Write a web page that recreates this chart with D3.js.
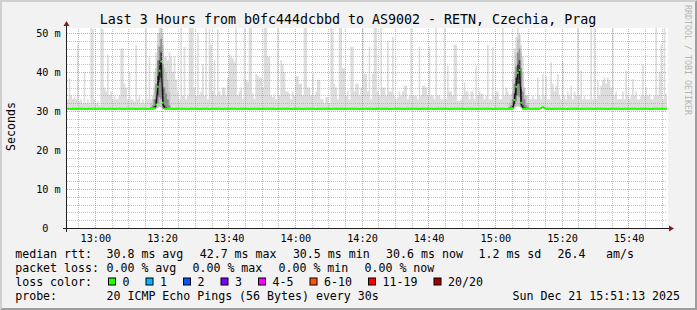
<!DOCTYPE html>
<html>
<head>
<meta charset="utf-8">
<script src="https://cdn.jsdelivr.net/npm/d3@7"></script>
<style>
  body { margin: 0; background: #f2f2f2; }
  svg { display: block; }
  text { font-family: "DejaVu Sans Mono", monospace; }
</style>
</head>
<body>
<div id="chart"></div>
<script>
// ---- data ----
const startTime = new Date(2025, 11, 21, 12, 51, 30);
const endTime = new Date(2025, 11, 21, 15, 51, 30);
const stepSec = 30;
const yMax = 51.28; // ms, top of the canvas

// median rtt per 30 s step, ms
const median = [
  30.6,30.6,30.5,30.6,30.6,30.6,30.5,30.6,30.6,30.6,30.6,30.5,30.6,30.6,30.6,30.6,30.6,30.5,30.6,30.6,
  30.6,30.6,30.6,30.5,30.6,30.6,30.6,30.6,30.5,30.6,30.6,30.6,30.6,30.6,30.5,30.6,30.6,30.6,30.6,30.6,
  30.6,30.5,30.6,30.6,30.6,30.6,30.6,30.6,30.5,30.6,30.6,30.6,30.7,31.6,36.2,40.3,42.7,32.1,30.6,30.6,
  30.6,30.6,30.6,30.6,30.5,30.6,30.6,30.6,30.6,30.6,30.6,30.6,30.5,30.6,30.6,30.6,30.6,30.6,30.6,30.5,
  30.6,30.6,30.6,30.6,30.6,30.5,30.6,30.6,30.6,30.6,30.6,30.6,30.6,30.5,30.6,30.6,30.6,30.6,30.6,30.6,
  30.6,30.6,30.5,30.6,30.6,30.6,30.6,30.6,30.6,30.5,30.6,30.6,30.6,30.6,30.6,30.6,30.5,30.6,30.6,30.6,
  30.6,30.6,30.6,30.6,30.6,30.5,30.6,30.6,30.6,30.6,30.6,30.6,30.6,30.6,30.5,30.6,30.6,30.6,30.6,30.6,
  30.6,30.5,30.6,30.6,30.6,30.6,30.6,30.6,30.6,30.5,30.6,30.6,30.6,30.6,30.6,30.6,30.6,30.6,30.5,30.6,
  30.6,30.6,30.6,30.6,30.6,30.6,30.5,30.6,30.6,30.6,30.6,30.6,30.6,30.6,30.6,30.5,30.6,30.6,30.6,30.6,
  30.6,30.6,30.6,30.6,30.5,30.6,30.6,30.6,30.6,30.6,30.6,30.6,30.6,30.5,30.6,30.6,30.6,30.6,30.6,30.6,
  30.6,30.6,30.5,30.6,30.6,30.6,30.6,30.6,30.6,30.6,30.6,30.5,30.6,30.6,30.6,30.6,30.6,30.6,30.6,30.6,
  30.5,30.6,30.6,30.6,30.6,30.6,30.6,30.6,30.6,30.5,30.6,30.6,30.6,30.6,30.6,30.6,30.6,30.6,30.5,30.6,
  30.6,30.6,30.6,30.6,30.6,30.6,30.5,30.6,30.6,30.6,30.6,30.6,30.6,30.6,30.6,30.5,30.6,30.6,30.6,30.6,
  30.6,30.6,30.6,30.5,30.6,30.6,30.6,30.7,32.8,36.2,39.8,40.5,32.1,30.6,30.6,30.6,30.6,30.6,30.6,30.6,
  30.6,30.6,30.6,30.6,30.7,31.0,30.7,30.6,30.6,30.6,30.5,30.6,30.6,30.6,30.6,30.6,30.6,30.6,30.6,30.5,
  30.6,30.6,30.6,30.6,30.6,30.6,30.6,30.5,30.6,30.6,30.6,30.6,30.6,30.6,30.6,30.6,30.5,30.6,30.6,30.6,
  30.6,30.6,30.6,30.6,30.5,30.6,30.6,30.6,30.6,30.6,30.6,30.6,30.6,30.5,30.6,30.6,30.6,30.6,30.6,30.6,
  30.6,30.6,30.5,30.6,30.6,30.6,30.6,30.6,30.6,30.6,30.5,30.6,30.6,30.6,30.6,30.6,30.6,30.6,30.6,30.6
];

// slowest ping per step (outer smoke), ms
const smokeMax = [
  33, 38.5, 34, 33, 33.5, 33, 47, 32.5, 33, 32,
  40, 32, 33, 32, 51.5, 51, 33, 32, 32.5, 31.5,
  52, 51, 36, 35, 44.5, 34, 35, 33, 34, 33,
  33, 34, 46, 46, 37, 36, 33, 40, 33, 33,
  32.5, 47, 33, 34, 32, 33, 32, 52, 33, 44,
  33, 34, 40, 45, 50, 52, 55, 50, 44, 44,
  43, 45, 44, 40, 44, 38, 35, 33, 52, 34,
  46.5, 33, 34, 52, 52, 51.5, 36, 34, 50, 34,
  35, 42, 34, 52, 33, 51, 47, 35, 43, 34,
  51, 35, 34, 36, 36, 34, 38.5, 44.5, 43.8, 43.5,
  42.5, 52, 34, 35, 36, 33, 52, 38, 37.5, 52,
  51.5, 34.5, 33, 39.5, 39, 38.6, 38.6, 36, 52, 52,
  44, 44, 34, 33.5, 34, 33, 52, 34, 43, 42,
  40, 35, 35, 34.5, 33, 35, 34, 39, 39, 37,
  37, 34, 52, 52, 36, 36, 34, 39.5, 34, 35,
  38, 38, 33, 33, 32, 33.5, 33.5, 32, 52, 51,
  37, 36, 33, 52, 52, 41, 41, 34, 35, 33,
  46.5, 46.5, 35, 37, 37, 34, 36, 52, 39.5, 39.5,
  35, 46.5, 33, 39.5, 52, 52, 35, 34, 52, 36,
  36, 34, 48, 35, 35, 49, 34, 33, 33.5, 35,
  34, 35, 36.5, 36.5, 33, 34, 52, 34, 34, 34,
  33, 46.5, 34, 36.5, 36.5, 36, 34, 46.5, 34, 34,
  33, 52, 34, 34, 33, 33, 52, 33, 41.6, 35,
  35, 34, 47, 47, 32.6, 32.6, 33, 34, 37.4, 35,
  35, 33, 35, 35, 33, 41.6, 34, 35, 34.4, 34.4,
  33, 34, 47, 33, 33, 46.5, 34, 35, 35, 33,
  33, 52, 34, 36, 35, 34, 34.4, 38, 46, 49,
  52, 50, 47, 44, 34, 34, 34, 33, 33, 34,
  33, 33, 38.6, 34, 33, 39.5, 34, 39, 33, 33,
  42.5, 37, 35, 36.5, 39.5, 34, 33, 42.5, 34, 33,
  35, 34, 36.5, 33, 35, 34, 52, 34, 40.4, 33,
  34, 33, 33, 33, 52, 33, 52, 33, 37.8, 34,
  36.5, 37.8, 38.5, 37, 38.5, 37.8, 36, 52, 34, 35,
  33, 33, 33, 35, 33, 40.4, 34, 33, 34, 38.2,
  34, 35, 33, 33, 34, 42, 34, 36, 34, 34.4,
  33, 33, 34, 52, 34, 40, 47, 33, 52, 34.4
];

// the two latency bursts: inner smoke bands, 12 steps each
const burstStart = [50, 265];
const burstOuterLo = [
  [30.5,30.5,30.6,30.6,30.8,31.0,30.9,30.6,30.5,30.5,30.5,30.5],
  [30.5,30.5,30.6,30.7,31.0,31.2,31.0,30.7,30.5,30.5,30.5,30.5]
];
const burstOuterHi = [
  [32.0,33.0,36.0,41.0,47.0,50.0,52.0,47.0,41.0,40.0,38.0,35.0],
  [32.0,33.0,35.0,40.0,45.0,48.5,49.5,45.0,40.0,36.0,34.0,32.0]
];
const burstMidLo = [
  [30.6,30.6,30.6,30.9,32.0,33.5,33.0,30.8,30.6,30.6,30.6,30.6],
  [30.6,30.6,30.6,31.2,32.5,34.0,33.5,31.0,30.6,30.6,30.6,30.6]
];
const burstMidHi = [
  [31.0,31.5,33.0,37.0,43.0,46.5,48.5,42.0,36.0,34.5,33.0,31.5],
  [31.0,31.5,33.0,37.0,41.5,45.0,46.0,41.0,35.0,33.0,31.5,31.0]
];
const burstCoreLo = [
  [30.6,30.6,30.7,31.2,34.0,37.5,38.5,31.4,30.6,30.6,30.6,30.6],
  [30.6,30.6,30.7,31.8,34.0,37.0,37.0,31.5,30.6,30.6,30.6,30.6]
];
const burstCoreHi = [
  [30.7,30.8,31.2,33.0,39.0,43.0,45.0,36.0,31.5,31.0,30.8,30.7],
  [30.7,30.8,31.3,34.5,38.5,42.0,43.0,36.0,31.5,31.0,30.8,30.7]
];

const yTicks = [0, 10, 20, 30, 40, 50];
const rttStats = [30.8, 42.7, 30.5, 30.6];
const lossStats = [0.00, 0.00, 0.00, 0.00];
const statNames = ["avg", "max", "min", "now"];
const rttSd = 1.2;
const rttAmps = 26.4;
const lossLabels = ["0", "1", "2", "3", "4-5", "6-10", "11-19", "20/20"];
const lossColors = ["#26ff00", "#00b8ff", "#0059ff", "#7e00ff", "#ff00ff", "#ff5500", "#ff0000", "#a10000"];
const title = "Last 3 Hours from b0fc444dcbbd to AS9002 - RETN, Czechia, Prag";
const probeText = "20 ICMP Echo Pings (56 Bytes) every 30s";
const stampText = "Sun Dec 21 15:51:13 2025";

// ---- layout ----
const W = 697, H = 310;
const X0 = 67, Y0 = 228, XSIZE = 600, YSIZE = 200;
const MONO = "DejaVu Sans Mono, monospace";

const svg = d3.select("#chart").append("svg").attr("width", W).attr("height", H);

// background with rrdtool style 3d border
svg.append("rect").attr("width", W).attr("height", H).attr("fill", "#f2f2f2");
svg.append("polygon")
  .attr("points", `0,${H} 2,${H - 2} 2,2 ${W - 2},2 ${W},0 0,0`)
  .attr("fill", "#cfcfcf");
svg.append("polygon")
  .attr("points", `2,${H - 2} ${W - 2},${H - 2} ${W - 2},2 ${W},0 ${W},${H} 0,${H}`)
  .attr("fill", "#9e9e9e");

svg.append("rect")
  .attr("x", X0).attr("y", Y0 - YSIZE)
  .attr("width", XSIZE + 1).attr("height", YSIZE + 1)
  .attr("fill", "#ffffff");

svg.append("clipPath").attr("id", "canvas")
  .append("rect").attr("x", X0).attr("y", Y0 - YSIZE).attr("width", XSIZE).attr("height", YSIZE);

const x = d3.scaleTime().domain([startTime, endTime]).range([X0, X0 + XSIZE]);
const y = d3.scaleLinear().domain([0, yMax]).range([Y0, Y0 - YSIZE]);

const stepTime = (i) => new Date(+startTime + i * stepSec * 1000);

let steps = median.map((m, i) => ({ t: stepTime(i), med: m, lo: m, hi: smokeMax[i] }));
burstStart.forEach((s, b) => {
  burstOuterLo[b].forEach((v, k) => (steps[s + k].lo = Math.min(v, steps[s + k].med)));
});

const area = d3.area()
  .x((d) => x(d.t))
  .y0((d) => y(d.lo))
  .y1((d) => y(d.hi))
  .curve(d3.curveStepAfter);

const smoke = svg.append("g").attr("clip-path", "url(#canvas)");
const last = steps[steps.length - 1];
smoke.append("path")
  .attr("d", area(steps.concat([{ ...last, t: endTime }])))
  .attr("fill", "#dddddd");

// inner bands of the two bursts, light to dark
const bands = [
  [burstOuterLo, burstOuterHi, "#c6c6c6"],
  [burstMidLo, burstMidHi, "#8e8e8e"],
  [burstCoreLo, burstCoreHi, "#3c3c3c"],
];
bands.forEach(([loArr, hiArr, color]) => {
  burstStart.forEach((s, b) => {
    let rows = loArr[b].map((lo, k) => ({ t: stepTime(s + k), lo: lo, hi: hiArr[b][k] }));
    rows.push({ ...rows[rows.length - 1], t: stepTime(s + rows.length) });
    smoke.append("path").attr("d", area(rows)).attr("fill", color);
  });
});

// grid (dotted, drawn over the smoke)
const grid = svg.append("g").attr("stroke-dasharray", "1,1").attr("stroke-width", 1);
const majorT = d3.timeMinute.every(20).range(startTime, endTime);
const minorT = d3.timeMinute.every(5).range(startTime, endTime).filter((t) => t.getMinutes() % 20 !== 0);
const minorV = d3.range(2, 51, 2).filter((v) => v % 10 !== 0);
const majorV = [10, 20, 30, 40, 50];

grid.selectAll(".vmin").data(minorT).join("line")
  .attr("x1", (d) => Math.floor(x(d)) + 0.5).attr("x2", (d) => Math.floor(x(d)) + 0.5)
  .attr("y1", Y0).attr("y2", Y0 - YSIZE)
  .attr("stroke", "rgba(150,150,150,0.55)");
grid.selectAll(".hmin").data(minorV).join("line")
  .attr("x1", X0).attr("x2", X0 + XSIZE)
  .attr("y1", (d) => Math.round(y(d)) + 0.5).attr("y2", (d) => Math.round(y(d)) + 0.5)
  .attr("stroke", "rgba(150,150,150,0.55)");
grid.selectAll(".vmaj").data(majorT).join("line")
  .attr("x1", (d) => Math.floor(x(d)) + 0.5).attr("x2", (d) => Math.floor(x(d)) + 0.5)
  .attr("y1", Y0).attr("y2", Y0 - YSIZE)
  .attr("stroke", "rgba(225,80,80,0.55)");
grid.selectAll(".hmaj").data(majorV).join("line")
  .attr("x1", X0).attr("x2", X0 + XSIZE)
  .attr("y1", (d) => Math.round(y(d)) + 0.5).attr("y2", (d) => Math.round(y(d)) + 0.5)
  .attr("stroke", "rgba(225,80,80,0.55)");

// median: black connector, green (0 loss) per step
const half = (x(stepTime(1)) - x(stepTime(0))) / 2;
svg.append("path")
  .attr("d", d3.line().x((d) => x(d.t) + half).y((d) => y(d.med))(steps))
  .attr("fill", "none").attr("stroke", "#111").attr("stroke-width", 1.2);
svg.append("path")
  .attr("d", steps.map((d, i) => `M${x(d.t)},${y(d.med)}H${x(stepTime(i + 1))}`).join(""))
  .attr("fill", "none").attr("stroke", lossColors[0]).attr("stroke-width", 2);

// axes
svg.append("line").attr("x1", X0 - 4).attr("x2", X0 + XSIZE + 4)
  .attr("y1", Y0 + 0.5).attr("y2", Y0 + 0.5).attr("stroke", "#1f1f1f");
svg.append("line").attr("x1", X0 - 0.5).attr("x2", X0 - 0.5)
  .attr("y1", Y0 + 4).attr("y2", Y0 - YSIZE - 4).attr("stroke", "#1f1f1f");
svg.append("polygon")
  .attr("points", `${X0 + XSIZE + 2},${Y0 - 2.5} ${X0 + XSIZE + 2},${Y0 + 3.5} ${X0 + XSIZE + 7},${Y0 + 0.5}`)
  .attr("fill", "#801f1f");
svg.append("polygon")
  .attr("points", `${X0 - 3.5},${Y0 - YSIZE - 2} ${X0 + 2.5},${Y0 - YSIZE - 2} ${X0 - 0.5},${Y0 - YSIZE - 7}`)
  .attr("fill", "#801f1f");

const axisY = svg.append("g")
  .attr("transform", `translate(${X0},0)`)
  .call(d3.axisLeft(y).tickValues(yTicks).tickFormat((v) => (v === 0 ? "0" : v + " m")).tickSize(0).tickPadding(6.3))
  .call((g) => g.select(".domain").remove())
  .attr("font-family", MONO).attr("font-size", 10.2);
axisY.selectAll("text").attr("dy", "0.36em").attr("fill", "#000")
  .filter((d) => d === 0).attr("x", -18.6);

svg.append("g")
  .attr("transform", `translate(0,${Y0})`)
  .call(d3.axisBottom(x).tickValues(majorT).tickFormat(d3.timeFormat("%H:%M")).tickSize(0).tickPadding(6.3))
  .call((g) => g.select(".domain").remove())
  .attr("font-family", MONO).attr("font-size", 10.2)
  .selectAll("text").attr("fill", "#000");

// titles
svg.append("text").attr("x", 348).attr("y", 24).attr("text-anchor", "middle")
  .attr("font-size", 13.3).text(title);
svg.append("text").attr("transform", "translate(15,126.5) rotate(-90)")
  .attr("text-anchor", "middle").attr("font-size", 11.6).text("Seconds");
svg.append("text").attr("transform", "translate(685,5) rotate(90)")
  .attr("font-size", 8.3).attr("fill", "#b4b4b4").text("RRDTOOL / TOBI OETIKER");

// legend
const legend = svg.append("g").attr("font-size", 11.6).attr("fill", "#000");
const rows = [257.5, 271.5, 285.5, 299.5];
const label = (txt, lx, ly) => legend.append("text").attr("x", lx).attr("y", ly).text(txt);

label("median rtt:", 15.2, rows[0]);
rttStats.forEach((v, k) => label(`${d3.format(".1f")(v)} ms ${statNames[k]}`, 106.5 + k * 93.2, rows[0]));
label(`${d3.format(".1f")(rttSd)} ms sd`, 478.5, rows[0]);
label(d3.format(".1f")(rttAmps), 557.5, rows[0]);
label("am/s", 606, rows[0]);

label("packet loss:", 15.2, rows[1]);
lossStats.forEach((v, k) => label(`${d3.format(".2f")(v)} % ${statNames[k]}`, 106.5 + k * 86, rows[1]));

label("loss color:", 15.2, rows[2]);
let sx = 108;
lossLabels.forEach((txt, k) => {
  legend.append("rect").attr("x", sx + 0.5).attr("y", rows[2] - 7.5)
    .attr("width", 7).attr("height", 7)
    .attr("fill", lossColors[k]).attr("stroke", "#000").attr("stroke-width", 1);
  label(txt, sx + 14.5, rows[2]);
  sx += 30.5 + 7 * txt.length;
});

label("probe:", 15.2, rows[3]);
label(probeText, 106.5, rows[3]);
label(stampText, 512.5, rows[3]);
</script>
</body>
</html>
